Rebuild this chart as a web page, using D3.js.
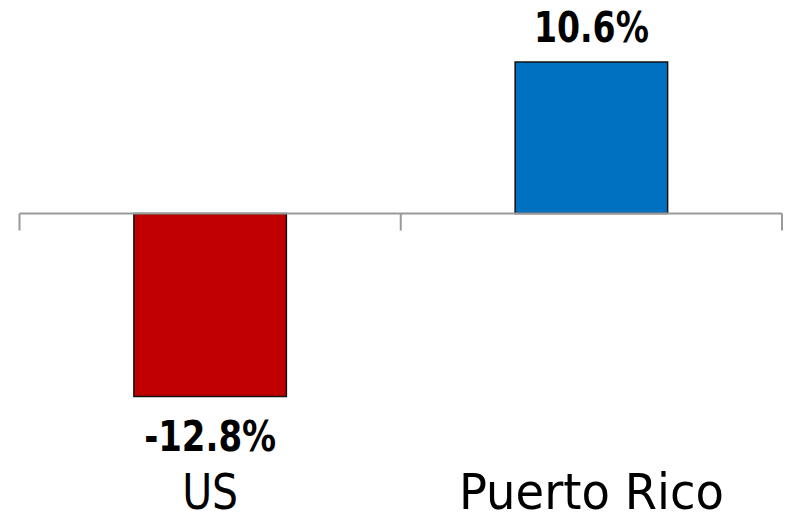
<!DOCTYPE html>
<html>
<head>
<meta charset="utf-8">
<script src="https://cdn.jsdelivr.net/npm/d3@7"></script>
<style>
  body { margin: 0; background: #fff; }
  text { font-family: "DejaVu Sans", sans-serif; fill: #000; }
</style>
</head>
<body>
<svg id="chart" width="786" height="513"></svg>
<script>
// data
const categories = ["US", "Puerto Rico"];
const values = [-12.8, 10.6];
const valueLabels = ["-12.8%", "10.6%"];
const colors = ["#C00000", "#0070C0"];

const svg = d3.select("#chart");

const x = d3.scaleBand().domain(categories)
    .range([19.5, 782])
    .paddingInner(0.6)
    .paddingOuter(0.3);
const y = d3.scaleLinear().domain([-12.8, 10.6]).range([396.5, 62]);

// bars
svg.selectAll(".bar")
    .data(values)
    .join("rect")
    .attr("class", "bar")
    .attr("x", (d, i) => x(categories[i]))
    .attr("width", x.bandwidth())
    .attr("y", d => Math.min(y(d), y(0)))
    .attr("height", d => Math.abs(y(d) - y(0)))
    .attr("fill", (d, i) => colors[i])
    .attr("stroke", "#111")
    .attr("stroke-width", 1.5);

// zero axis with category boundary ticks
const step = x.step();
const bounds = [x.range()[0]].concat(categories.map(c => x(c) - x.paddingOuter() * step + step));
svg.append("line")
    .attr("x1", x.range()[0]).attr("x2", x.range()[1])
    .attr("y1", y(0)).attr("y2", y(0))
    .attr("stroke", "#999").attr("stroke-width", 2);
svg.selectAll(".tick")
    .data(bounds)
    .join("line")
    .attr("class", "tick")
    .attr("x1", d => d).attr("x2", d => d)
    .attr("y1", y(0)).attr("y2", y(0) + 17)
    .attr("stroke", "#999").attr("stroke-width", 2);

// value labels
const labelWidths = [132, 115];
svg.selectAll(".val")
    .data(values)
    .join("text")
    .attr("class", "val")
    .attr("x", (d, i) => x(categories[i]) + x.bandwidth() / 2)
    .attr("y", d => d < 0 ? y(d) + 54 : y(d) - 20)
    .attr("text-anchor", "middle")
    .attr("font-size", 42)
    .attr("font-weight", "bold")
    .attr("textLength", (d, i) => labelWidths[i])
    .attr("lengthAdjust", "spacingAndGlyphs")
    .text((d, i) => valueLabels[i]);

// category labels
const catWidths = [56, 265];
svg.selectAll(".cat")
    .data(categories)
    .join("text")
    .attr("class", "cat")
    .attr("x", d => x(d) + x.bandwidth() / 2)
    .attr("y", 509)
    .attr("text-anchor", "middle")
    .attr("font-size", 50)
    .attr("textLength", (d, i) => catWidths[i])
    .attr("lengthAdjust", "spacingAndGlyphs")
    .text(d => d);
</script>
</body>
</html>
